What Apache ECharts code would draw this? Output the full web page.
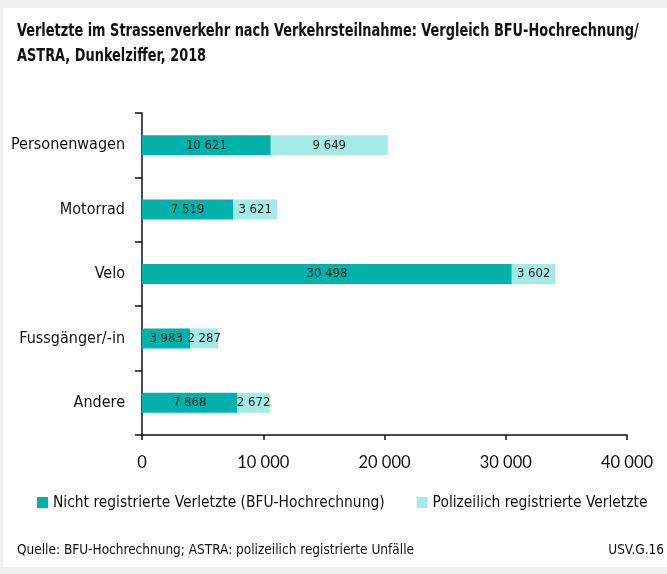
<!DOCTYPE html>
<html>
<head>
<meta charset="utf-8">
<script src="https://cdn.jsdelivr.net/npm/echarts@6/dist/echarts.min.js"></script>
<style>
  html, body { margin: 0; padding: 0; background: #f0f0f0; }
  #chart { width: 667px; height: 574px; }
</style>
</head>
<body>
<div id="chart"></div>
<script>
// Daten
var categories = ["Personenwagen", "Motorrad", "Velo", "Fussgänger/-in", "Andere"];
var nichtRegistriert = [10621, 7519, 30498, 3983, 7868];
var polizeilich = [9649, 3621, 3602, 2287, 2672];
var seriesNames = ["Nicht registrierte Verletzte (BFU-Hochrechnung)", "Polizeilich registrierte Verletzte"];
var titleLines = ["Verletzte im Strassenverkehr nach Verkehrsteilnahme: Vergleich BFU-Hochrechnung/", "ASTRA, Dunkelziffer, 2018"];

var font = '"DejaVu Sans Condensed", Roboto, sans-serif';

function fmt(v) {
  return String(v).replace(/\B(?=(\d{3})+(?!\d))/g, " ");
}

var myChart = echarts.init(document.getElementById("chart"));
myChart.setOption({
  textStyle: { fontFamily: font },
  graphic: [
    { type: "rect", z: -10, shape: { x: 3, y: 8, width: 664, height: 559 }, style: { fill: "#ffffff" } },
    // Titel, schmal gezogen wie im Original
    { type: "text", x: 17, y: 32, scaleX: 0.845, style: { text: titleLines[0], font: 'bold 17px ' + font, fill: "#111", verticalAlign: "middle" } },
    { type: "text", x: 17, y: 57, scaleX: 0.845, style: { text: titleLines[1], font: 'bold 17px ' + font, fill: "#111", verticalAlign: "middle" } }
  ],
  title: [
    {
      text: "Quelle: BFU-Hochrechnung; ASTRA: polizeilich registrierte Unfälle",
      left: 17, top: 543, padding: 0,
      textStyle: { fontFamily: font, fontSize: 13.5, fontWeight: "normal", color: "#111" }
    },
    {
      text: "USV.G.16",
      right: 3, top: 543, padding: 0,
      textStyle: { fontFamily: font, fontSize: 13.5, fontWeight: "normal", color: "#111" }
    }
  ],
  legend: {
    data: seriesNames,
    left: 37, top: 495, padding: 0,
    width: 630,
    icon: "rect",
    itemWidth: 11, itemHeight: 11,
    itemGap: 32,
    textStyle: { fontFamily: font, fontSize: 15.4, color: "#111" }
  },
  grid: { left: 142, right: 40, top: 113, bottom: 139 },
  xAxis: {
    type: "value",
    min: 0, max: 40000, interval: 10000,
    axisLine: { show: true, lineStyle: { color: "#111", width: 1.5 } },
    axisTick: { show: true, length: 5, lineStyle: { color: "#111", width: 1.5 } },
    splitLine: { show: false },
    axisLabel: { formatter: fmt, fontSize: 16.5, color: "#111", margin: 19, fontFamily: "Lato, sans-serif" }
  },
  yAxis: {
    type: "category",
    inverse: true,
    data: categories,
    axisLine: { show: true, lineStyle: { color: "#111", width: 1.5 } },
    axisTick: { show: true, length: 7, lineStyle: { color: "#111", width: 1.5 } },
    axisLabel: { fontSize: 16, color: "#111", margin: 17 }
  },
  series: [
    {
      name: seriesNames[0],
      type: "bar",
      stack: "total",
      barWidth: 20,
      data: nichtRegistriert,
      itemStyle: { color: "#00b2a9" },
      label: { show: true, position: "inside", color: "#222", fontSize: 13, formatter: function (p) { return fmt(p.value); } }
    },
    {
      name: seriesNames[1],
      type: "bar",
      stack: "total",
      barWidth: 20,
      data: polizeilich,
      itemStyle: { color: "#a6eae5" },
      label: { show: true, position: "inside", color: "#222", fontSize: 13, formatter: function (p) { return fmt(p.value); } }
    }
  ]
});
</script>
</body>
</html>
